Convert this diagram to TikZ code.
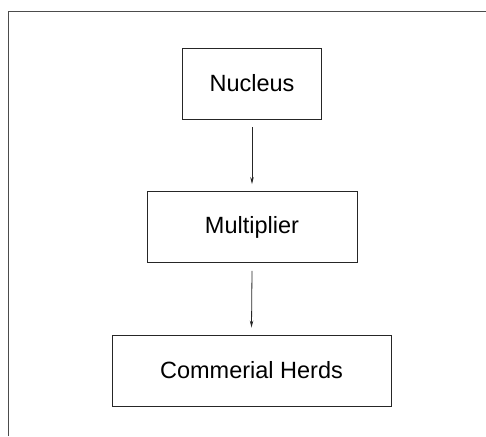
\documentclass[tikz,border=0pt]{standalone}
\usepackage{fontspec}
\setmainfont{Liberation Sans}
\usetikzlibrary{arrows.meta}
\begin{document}
\begin{tikzpicture}[x=1pt,y=-1pt,
  box/.style={draw=black!85, line width=0.9pt, inner sep=0pt, font=\fontsize{23.5}{28}\selectfont},
  conn/.style={draw=black!85, line width=0.8pt, -{Stealth[length=7pt,width=3.5pt]}}]
\useasboundingbox (0,0) rectangle (486,436);
\draw[black!70, line width=1pt] (8,436) coordinate (fbl) -- (8,12) coordinate (ftl) -- (486,12) coordinate (ftr);
\node[box, minimum width=139pt, minimum height=71pt] (nuc) at (252,83.5) {Nucleus};
\node[box, minimum width=210pt, minimum height=71pt] (mul) at (252,227) {Multiplier};
\node[box, minimum width=279pt, minimum height=71pt] (com) at (251.5,370.5) {Commerial Herds};
\draw[conn] ([yshift=-8pt]nuc.south) -- ([yshift=7pt]mul.north);
\draw[conn] ([yshift=-8pt]mul.south) -- ([yshift=7pt]com.north);
\end{tikzpicture}
\end{document}
